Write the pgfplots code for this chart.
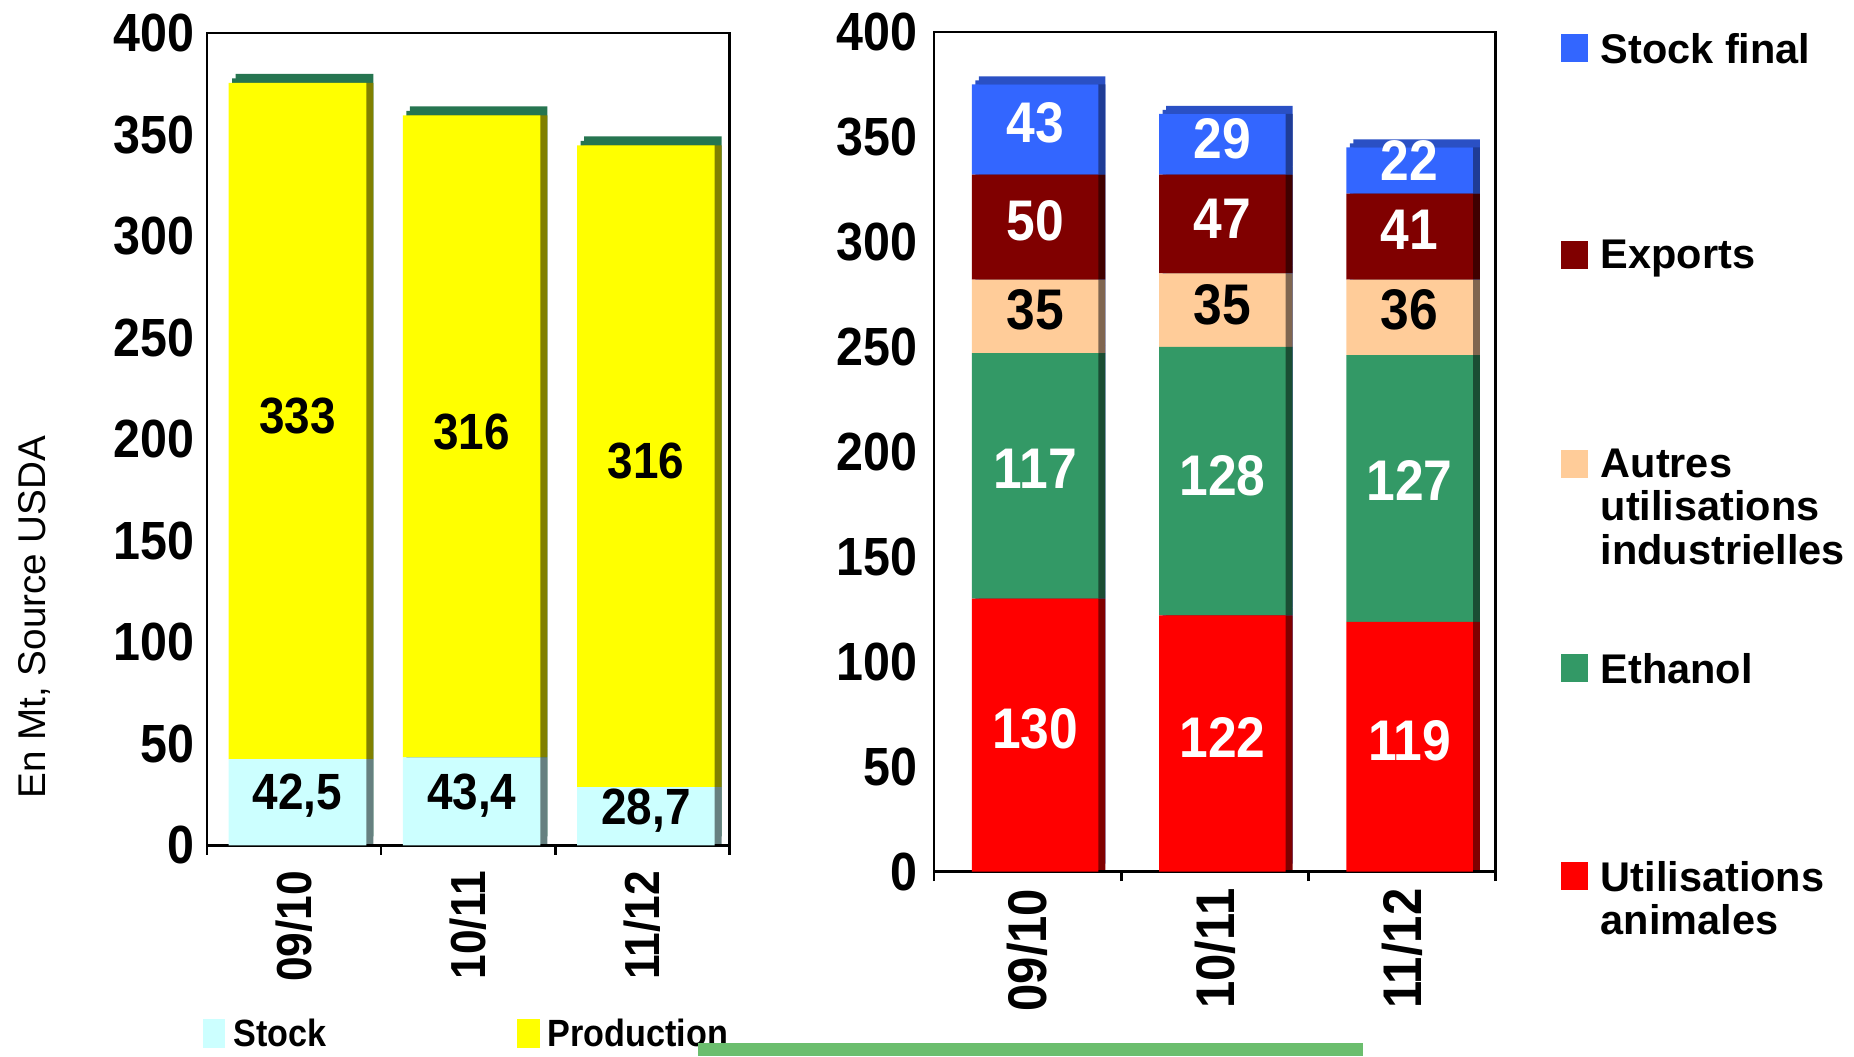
\documentclass[border=0pt]{standalone}
\usepackage{fontspec}
\setmainfont{Liberation Sans}
\newfontfamily\condfont{Liberation Sans}[FakeStretch=0.9]
\usepackage{pgfplots}
\pgfplotsset{compat=1.18}
\usepackage{pgfplotstable}

\definecolor{stockc}{HTML}{CCFFFF}
\definecolor{stockside}{HTML}{668080}
\definecolor{prodc}{HTML}{FFFF00}
\definecolor{prodside}{HTML}{808000}
\definecolor{topgreen}{HTML}{267550}
\definecolor{finc}{HTML}{3366FF}
\definecolor{fintop}{HTML}{2A50C4}
\definecolor{finside}{HTML}{1F3C96}
\definecolor{expc}{HTML}{800000}
\definecolor{expside}{HTML}{400000}
\definecolor{autc}{HTML}{FFCC99}
\definecolor{autside}{HTML}{806650}
\definecolor{ethc}{HTML}{339966}
\definecolor{ethside}{HTML}{1A4D33}
\definecolor{animc}{HTML}{FF0000}
\definecolor{animside}{HTML}{800000}
\definecolor{stripc}{HTML}{6BBE6E}

% left chart: stock and production
\pgfplotstableread{
x stock prod
0 42.5 333
1 43.4 316
2 28.7 316
}\lefttab

% right chart: uses
\pgfplotstableread{
x anim eth autres exp fin
0 130 117 35 50 43
1 122 128 35 47 29
2 119 127 36 41 22
}\righttab

% value labels (position of the text)
\pgfplotstableread{
x y lab
0.02 24.4 42,5
1.02 24.4 43,4
2.02 16.9 28,7
0.02 211.3 333
1.02 203.7 316
2.02 189.2 316
}\leftlabs

\pgfplotstableread{
x y lab
0.04 68.2 130
1.04 63.7 122
2.04 62.5 119
0.04 192.1 117
1.04 188.7 128
2.04 186.5 127
0.04 309.9 50
1.04 311.0 47
2.04 305.9 41
0.04 356.6 43
1.04 349.3 29
2.04 338.6 22
}\rightwhite

\pgfplotstableread{
x y lab
0.04 267.6 35
1.04 269.9 35
2.04 267.6 36
}\rightblack

\pgfplotsset{
  geoL/.style={scale only axis, anchor=south west, width=52.26mm, height=81.24mm,
    xmin=-0.5, xmax=2.5, ymin=0, ymax=400},
  geoR/.style={scale only axis, anchor=south west, width=56.16mm, height=83.95mm,
    xmin=-0.5, xmax=2.5, ymin=0, ymax=400},
  barsL/.style={ybar stacked, every axis plot/.append style={bar width=0.79, bar shift=0.02, draw=none}},
  barsR/.style={ybar stacked, every axis plot/.append style={bar width=0.676, bar shift=0.04, draw=none}},
  ghost/.style={hide axis, clip=false},
  frame/.style={
    axis line style={line width=0.7pt, black},
    ytick={0,50,...,400},
    xtick={0,1,2}, xticklabels={09/10,10/11,11/12},
    minor xtick={-0.5,0.5,1.5,2.5},
    major tick length=0pt, minor tick length=0.95mm,
    tick align=outside, xtick pos=left, ytick pos=left,
    minor x tick style={line width=0.7pt, black},
    /pgf/number format/assume math mode=true,
  },
  labs/.style={draw=none, mark=none, nodes near coords, point meta=explicit symbolic,
    nodes near coords align={center}},
}

\begin{document}
\begin{tikzpicture}
\useasboundingbox (0,0) rectangle (185.4mm,105.6mm);

% ---------- left chart ----------
% top faces (two offsets give the slanted edge)
\begin{axis}[geoL, barsL, ghost, at={(21.39mm,21.96mm)}]
  \addplot[fill=topgreen] table[x=x, y=stock] {\lefttab};
  \addplot[fill=topgreen] table[x=x, y=prod] {\lefttab};
\end{axis}
\begin{axis}[geoL, barsL, ghost, at={(21.04mm,21.51mm)}]
  \addplot[fill=topgreen] table[x=x, y=stock] {\lefttab};
  \addplot[fill=topgreen] table[x=x, y=prod] {\lefttab};
\end{axis}
% side faces
\begin{axis}[geoL, barsL, ghost, at={(21.39mm,21.06mm)}]
  \addplot[fill=stockside] table[x=x, y=stock] {\lefttab};
  \addplot[fill=prodside] table[x=x, y=prod] {\lefttab};
\end{axis}
% front faces with frame
\begin{axis}[geoL, barsL, frame, at={(20.69mm,21.06mm)},
  yticklabel style={font=\condfont\bfseries\fontsize{15.3}{16}\selectfont, inner sep=0pt, xshift=-1.2mm},
  xticklabel style={font=\condfont\bfseries\fontsize{14}{15}\selectfont, yshift=-2.5mm, rotate=90, anchor=east, inner sep=0pt},
  ylabel={En Mt, Source USDA},
  every axis y label/.style={at={(axis description cs:-0.329,0.281)}, rotate=90, anchor=center,
    font=\fontsize{11}{12}\selectfont}]
  \addplot[fill=stockc] table[x=x, y=stock] {\lefttab};
  \addplot[fill=prodc] table[x=x, y=prod] {\lefttab};
\end{axis}
\begin{axis}[geoL, ghost, at={(20.69mm,21.06mm)}]
  \addplot[labs, every node near coord/.append style={text=black, inner sep=0pt,
    font=\condfont\bfseries\fontsize{14.5}{15}\selectfont}]
    table[x=x, y=y, meta=lab] {\leftlabs};
\end{axis}

% ---------- right chart ----------
\begin{axis}[geoR, barsR, ghost, at={(94.11mm,19.25mm)}]
  \addplot[fill=fintop] table[x=x, y=anim] {\righttab};
  \addplot[fill=fintop] table[x=x, y=eth] {\righttab};
  \addplot[fill=fintop] table[x=x, y=autres] {\righttab};
  \addplot[fill=fintop] table[x=x, y=exp] {\righttab};
  \addplot[fill=fintop] table[x=x, y=fin] {\righttab};
\end{axis}
\begin{axis}[geoR, barsR, ghost, at={(93.76mm,18.85mm)}]
  \addplot[fill=fintop] table[x=x, y=anim] {\righttab};
  \addplot[fill=fintop] table[x=x, y=eth] {\righttab};
  \addplot[fill=fintop] table[x=x, y=autres] {\righttab};
  \addplot[fill=fintop] table[x=x, y=exp] {\righttab};
  \addplot[fill=fintop] table[x=x, y=fin] {\righttab};
\end{axis}
\begin{axis}[geoR, barsR, ghost, at={(94.11mm,18.45mm)}]
  \addplot[fill=animside] table[x=x, y=anim] {\righttab};
  \addplot[fill=ethside] table[x=x, y=eth] {\righttab};
  \addplot[fill=autside] table[x=x, y=autres] {\righttab};
  \addplot[fill=expside] table[x=x, y=exp] {\righttab};
  \addplot[fill=finside] table[x=x, y=fin] {\righttab};
\end{axis}
\begin{axis}[geoR, barsR, frame, at={(93.41mm,18.45mm)},
  yticklabel style={font=\condfont\bfseries\fontsize{15.3}{16}\selectfont, inner sep=0pt, xshift=-1.6mm},
  xticklabel style={font=\condfont\bfseries\fontsize{15.5}{16}\selectfont, yshift=-1.65mm, rotate=90, anchor=east, inner sep=0pt}]
  \addplot[fill=animc] table[x=x, y=anim] {\righttab};
  \addplot[fill=ethc] table[x=x, y=eth] {\righttab};
  \addplot[fill=autc] table[x=x, y=autres] {\righttab};
  \addplot[fill=expc] table[x=x, y=exp] {\righttab};
  \addplot[fill=finc] table[x=x, y=fin] {\righttab};
\end{axis}
\begin{axis}[geoR, ghost, at={(93.41mm,18.45mm)}]
  \addplot[labs, every node near coord/.append style={text=white, inner sep=0pt,
    font=\condfont\bfseries\fontsize{16.3}{17}\selectfont}]
    table[x=x, y=y, meta=lab] {\rightwhite};
  \addplot[labs, every node near coord/.append style={text=black, inner sep=0pt,
    font=\condfont\bfseries\fontsize{16.3}{17}\selectfont}]
    table[x=x, y=y, meta=lab] {\rightblack};
\end{axis}

% ---------- right legend ----------
\fill[finc]  (156.1mm,99.35mm) rectangle (158.8mm,102.15mm);
\fill[expc]  (156.1mm,78.7mm)  rectangle (158.8mm,81.5mm);
\fill[autc]  (156.1mm,57.85mm) rectangle (158.8mm,60.65mm);
\fill[ethc]  (156.1mm,37.4mm)  rectangle (158.8mm,40.2mm);
\fill[animc] (156.1mm,16.6mm)  rectangle (158.8mm,19.4mm);
\begin{scope}[every node/.style={anchor=north west, inner sep=0pt, align=left,
    font=\bfseries\fontsize{11.8}{12.4}\selectfont}]
  \node at (160mm,102.3mm) {Stock final};
  \node at (160mm,81.65mm) {Exports};
  \node at (160mm,60.8mm) {Autres\\utilisations\\industrielles};
  \node at (160mm,40.35mm) {Ethanol};
  \node at (160mm,19.55mm) {Utilisations\\animales};
\end{scope}

% ---------- left legend ----------
\fill[stockc] (20.3mm,0.8mm) rectangle (22.5mm,3.7mm);
\fill[prodc]  (51.7mm,0.8mm) rectangle (54.0mm,3.7mm);
\begin{scope}[every node/.style={anchor=base west, inner sep=0pt,
    font=\condfont\bfseries\fontsize{10.8}{12}\selectfont}]
  \node at (23.3mm,0.94mm) {Stock};
  \node at (54.7mm,0.94mm) {Production};
\end{scope}

% slide decoration at the bottom
\fill[stripc] (69.8mm,0) rectangle (136.3mm,1.3mm);
\end{tikzpicture}
\end{document}
